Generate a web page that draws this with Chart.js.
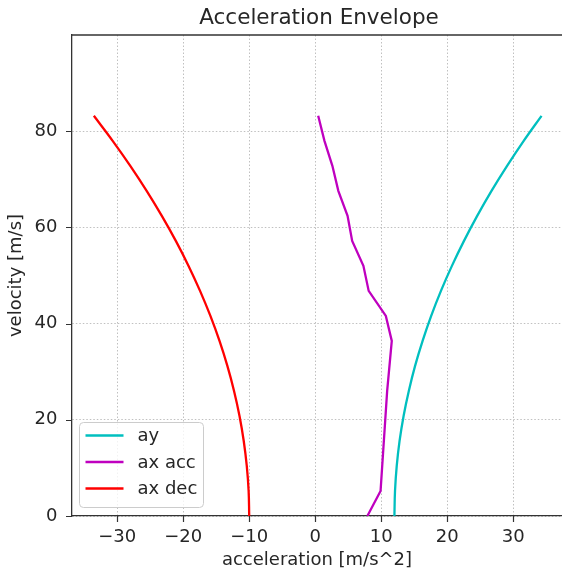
<!DOCTYPE html>
<html>
<head>
<meta charset="utf-8">
<script src="https://cdn.jsdelivr.net/npm/chart.js@4.4.1/dist/chart.umd.min.js"></script>
<style>
  html, body { margin: 0; padding: 0; background: #fff; overflow: hidden; }
  #wrap { width: 562px; height: 571px; position: relative; }
</style>
</head>
<body>
<div id="wrap"><canvas id="c"></canvas></div>
<script>
// ---- data ----
const velocity    = [0, 5.2, 10.4, 15.6, 20.8, 26.0, 31.2, 36.4, 41.6, 46.8, 52.0, 57.2, 62.4, 67.6, 72.8, 78.0, 83.2];
const ayValues    = [12.0, 12.09, 12.35, 12.78, 13.39, 14.18, 15.13, 16.27, 17.57, 19.05, 20.71, 22.54, 24.54, 26.71, 29.07, 31.59, 34.29];
const axAccValues = [7.9, 9.9, 10.15, 10.4, 10.65, 10.9, 11.25, 11.6, 10.7, 8.1, 7.3, 5.6, 4.9, 3.5, 2.6, 1.4, 0.45];
const axDecValues = [-10.0, -10.09, -10.37, -10.83, -11.47, -12.30, -13.31, -14.50, -15.88, -17.45, -19.19, -21.12, -23.24, -25.54, -28.02, -30.69, -33.54];
const seriesNames = ['ay', 'ax acc', 'ax dec'];
const seriesColors = ['#00BFBF', '#BF00BF', '#FF0000'];
const xTicks = [-30, -20, -10, 0, 10, 20, 30];
const yTicks = [0, 20, 40, 60, 80];
const xRange = [-36.85, 37.39];
const yRange = [0, 100];
const titleText = 'Acceleration Envelope';

const FONT = "'DejaVu Sans', sans-serif";
const TEXT = '#262626';

function pts(xs) { return xs.map((x, i) => ({ x: x, y: velocity[i] })); }

const spinesAndTicks = {
  id: 'spinesAndTicks',
  afterDraw(chart) {
    const ctx = chart.ctx, a = chart.chartArea;
    const xs = chart.scales.x, ys = chart.scales.y;
    ctx.save();
    ctx.strokeStyle = '#333';
    ctx.lineWidth = 1.3;
    ctx.beginPath();
    ctx.moveTo(a.left, a.top);
    ctx.lineTo(a.right, a.top);
    ctx.stroke();
    ctx.lineWidth = 1.2;
    ctx.beginPath();
    xs.ticks.forEach(t => {
      const p = Math.round(xs.getPixelForValue(t.value)) + 0.5;
      ctx.moveTo(p, a.bottom);
      ctx.lineTo(p, a.bottom + 6);
    });
    ys.ticks.forEach(t => {
      const p = Math.round(ys.getPixelForValue(t.value)) + 0.5;
      ctx.moveTo(a.left, p);
      ctx.lineTo(a.left - 6, p);
    });
    ctx.stroke();
    // title centred over the axes
    ctx.fillStyle = TEXT;
    ctx.font = '21.5px ' + FONT;
    ctx.textAlign = 'center';
    ctx.textBaseline = 'alphabetic';
    ctx.fillText(titleText, (a.left + 566) / 2, 24);
    ctx.restore();
  }
};

const boxLegend = {
  id: 'boxLegend',
  afterDraw(chart) {
    const ctx = chart.ctx, a = chart.chartArea;
    const x0 = a.left + 7.5, y0 = a.bottom - 93.5, w = 124, h = 85, r = 4;
    ctx.save();
    ctx.fillStyle = 'rgba(255,255,255,0.8)';
    ctx.strokeStyle = '#cccccc';
    ctx.lineWidth = 1;
    ctx.beginPath();
    ctx.moveTo(x0 + r, y0);
    ctx.lineTo(x0 + w - r, y0);
    ctx.arcTo(x0 + w, y0, x0 + w, y0 + r, r);
    ctx.lineTo(x0 + w, y0 + h - r);
    ctx.arcTo(x0 + w, y0 + h, x0 + w - r, y0 + h, r);
    ctx.lineTo(x0 + r, y0 + h);
    ctx.arcTo(x0, y0 + h, x0, y0 + h - r, r);
    ctx.lineTo(x0, y0 + r);
    ctx.arcTo(x0, y0, x0 + r, y0, r);
    ctx.closePath();
    ctx.fill();
    ctx.stroke();
    chart.data.datasets.forEach((ds, i) => {
      const yy = y0 + 13 + i * 26.5;
      ctx.strokeStyle = ds.borderColor;
      ctx.lineWidth = 2.3;
      ctx.beginPath();
      ctx.moveTo(x0 + 6, yy);
      ctx.lineTo(x0 + 44, yy);
      ctx.stroke();
      ctx.fillStyle = TEXT;
      ctx.font = '18px ' + FONT;
      ctx.textBaseline = 'middle';
      ctx.textAlign = 'left';
      ctx.fillText(ds.label, x0 + 58, yy + 1);
    });
    ctx.restore();
  }
};

new Chart(document.getElementById('c'), {
  type: 'scatter',
  data: {
    datasets: [
      { label: seriesNames[0], data: pts(ayValues), borderColor: seriesColors[0], showLine: true, pointRadius: 0, borderWidth: 2.3, tension: 0.4 },
      { label: seriesNames[1], data: pts(axAccValues), borderColor: seriesColors[1], showLine: true, pointRadius: 0, borderWidth: 2.3, tension: 0 },
      { label: seriesNames[2], data: pts(axDecValues), borderColor: seriesColors[2], showLine: true, pointRadius: 0, borderWidth: 2.3, tension: 0.4 }
    ]
  },
  options: {
    responsive: true,
    maintainAspectRatio: false,
    animation: false,
    layout: { padding: { top: 35, left: 0, right: 0, bottom: 0 } },
    plugins: {
      legend: { display: false },
      tooltip: { enabled: false },
      title: { display: false }
    },
    scales: {
      x: {
        type: 'linear',
        min: xRange[0], max: xRange[1],
        afterBuildTicks: s => { s.ticks = xTicks.map(v => ({ value: v })); },
        afterFit: s => { s.height = 55; s.paddingLeft = 0; s.paddingRight = 0; },
        grid: { color: '#b0b0b0', lineWidth: 0.8, drawTicks: false },
        border: { display: true, color: '#333', width: 1.3, dash: [1.5, 2] },
        ticks: {
          color: TEXT, padding: 11,
          font: { family: FONT, size: 18 },
          callback: v => (v < 0 ? '\u2212' + Math.abs(v) : String(v))
        },
        title: {
          display: true, text: 'acceleration [m/s^2]', color: TEXT,
          font: { family: FONT, size: 18 }, padding: { top: 0, bottom: 0 }
        }
      },
      y: {
        type: 'linear',
        min: yRange[0], max: yRange[1],
        afterBuildTicks: s => { s.ticks = yTicks.map(v => ({ value: v })); },
        afterFit: s => { s.width = 72; s.paddingTop = 0; s.paddingBottom = 0; },
        grid: { color: '#b0b0b0', lineWidth: 0.8, drawTicks: false },
        border: { display: true, color: '#333', width: 1.3, dash: [1.5, 2] },
        ticks: {
          color: TEXT, padding: 14.5,
          font: { family: FONT, size: 18 },
          callback: v => String(v)
        },
        title: {
          display: true, text: 'velocity [m/s]', color: TEXT,
          font: { family: FONT, size: 18 }, padding: { top: 6, bottom: 0 }
        }
      }
    }
  },
  plugins: [spinesAndTicks, boxLegend]
});
</script>
</body>
</html>
